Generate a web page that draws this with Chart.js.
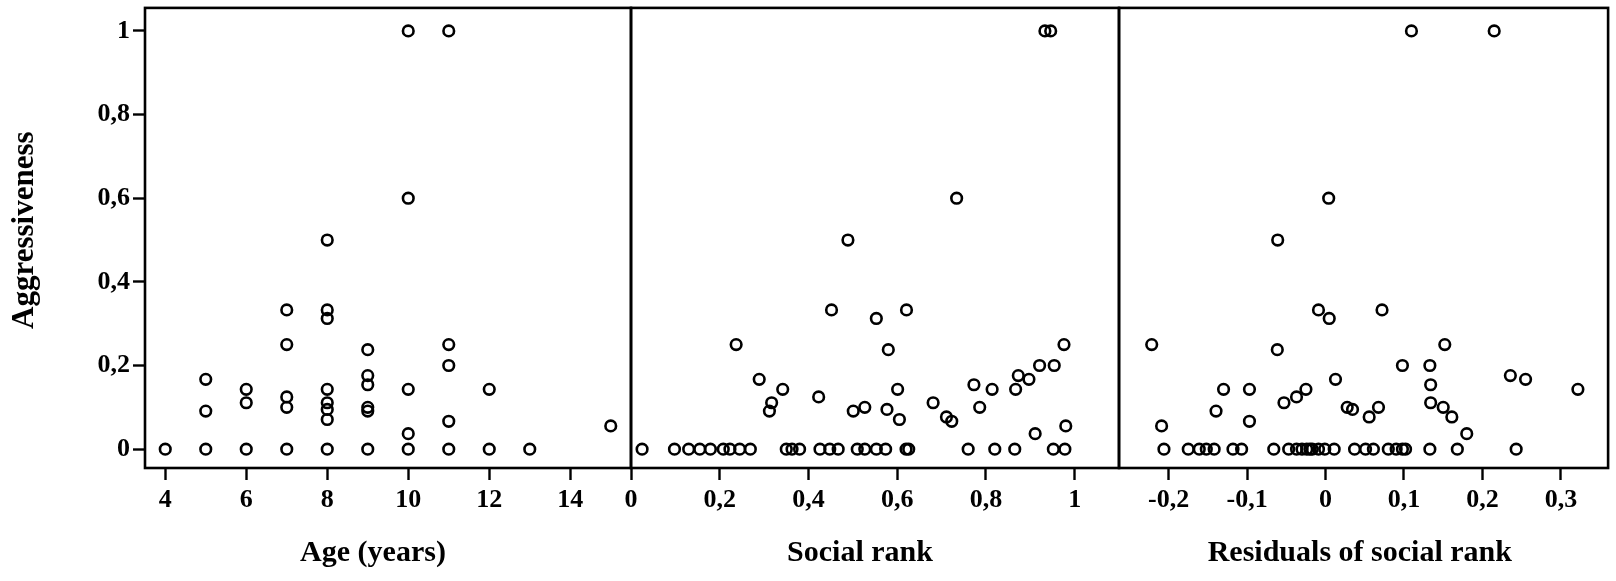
<!DOCTYPE html>
<html><head><meta charset="utf-8">
<script src="https://cdn.jsdelivr.net/npm/chart.js@4"></script>
<style>
html,body{margin:0;padding:0;background:#fff;}
#wrap{position:relative;width:1616px;height:581px;background:#fff;}
#wrap canvas{position:absolute;left:0;top:0;}
</style></head><body>
<div id="wrap">
<canvas id="c1" width="1616" height="581"></canvas>
<canvas id="c2" width="1616" height="581"></canvas>
<canvas id="c3" width="1616" height="581"></canvas>
</div>
<script>
// ---- Data ----
const yTitle = 'Aggressiveness';
const aggrTicks = [0, 0.2, 0.4, 0.6, 0.8, 1];
const aggrTickLabels = ['0', '0,2', '0,4', '0,6', '0,8', '1'];

const ageTitle = 'Age (years)';
const ageTicks = [4, 6, 8, 10, 12, 14];
const ageTickLabels = ['4', '6', '8', '10', '12', '14'];
const ageX = [4, 5,5,5, 6,6,6, 7,7,7,7,7, 8,8,8,8,8,8,8,8, 9,9,9,9,9,9, 10,10,10,10,10, 11,11,11,11,11, 12,12, 13, 15];
const ageAggr = [0, 0.167,0.091,0, 0.143,0.111,0, 0.333,0.25,0.125,0.1,0, 0.5,0.333,0.3125,0.143,0.111,0.095,0.071,0, 0.238,0.176,0.154,0.1,0.091,0, 1,0.6,0.143,0.037,0, 1,0.25,0.2,0.0667,0, 0.143,0, 0, 0.0556];

const rankTitle = 'Social rank';
const rankTicks = [0, 0.2, 0.4, 0.6, 0.8, 1];
const rankTickLabels = ['0', '0,2', '0,4', '0,6', '0,8', '1'];
const rankX = [0.025, 0.098, 0.130, 0.155, 0.179, 0.208, 0.223, 0.245, 0.269, 0.350, 0.363, 0.380, 0.426, 0.448, 0.467, 0.510, 0.527, 0.553, 0.574, 0.620, 0.626, 0.760, 0.820, 0.865, 0.952, 0.978,
  0.489, 0.734, 0.933, 0.946, 0.237, 0.289, 0.317, 0.312, 0.342, 0.423, 0.452, 0.501, 0.527, 0.553, 0.580, 0.577, 0.601, 0.605, 0.621, 0.681, 0.711, 0.723, 0.773, 0.786, 0.814, 0.867, 0.873, 0.897, 0.921, 0.954, 0.976, 0.911, 0.980];
const rankAggr = [0,0,0,0,0,0,0,0,0,0,0,0,0,0,0,0,0,0,0,0,0,0,0,0,0,0,
  0.5, 0.6, 1, 1, 0.25, 0.167, 0.111, 0.091, 0.143, 0.125, 0.333, 0.091, 0.1, 0.3125, 0.238, 0.095, 0.143, 0.071, 0.333, 0.111, 0.077, 0.0667, 0.154, 0.1, 0.143, 0.143, 0.176, 0.167, 0.2, 0.2, 0.25, 0.037, 0.0556];

const residTitle = 'Residuals of social rank';
const residTicks = [-0.2, -0.1, 0, 0.1, 0.2, 0.3];
const residTickLabels = ['-0,2', '-0,1', '0', '0,1', '0,2', '0,3'];
const residX = [-0.206, -0.175, -0.161, -0.152, -0.142, -0.118, -0.107, -0.066, -0.047, -0.037, -0.030, -0.024, -0.020, -0.017, -0.009, -0.001, 0.011, 0.037, 0.051, 0.061, 0.080, 0.090, 0.098, 0.102, 0.133, 0.168, 0.243,
  -0.2216, -0.209, -0.1396, -0.130, -0.097, -0.097, -0.0615, -0.053, -0.037, -0.025, -0.009, 0.0047, 0.0127, 0.0276, 0.0344, 0.0556, 0.0675, 0.072, 0.098, 0.133, 0.134, 0.134, 0.150, 0.152, 0.161, 0.180, 0.2356, 0.255, 0.3217,
  0.1095, 0.215, 0.004, -0.061];
const residAggr = [0,0,0,0,0,0,0,0,0,0,0,0,0,0,0,0,0,0,0,0,0,0,0,0,0,0,0,
  0.25, 0.0556, 0.091, 0.143, 0.143, 0.0667, 0.238, 0.111, 0.125, 0.143, 0.333, 0.3125, 0.167, 0.1, 0.095, 0.077, 0.1, 0.333, 0.2, 0.2, 0.154, 0.111, 0.1, 0.25, 0.077, 0.037, 0.176, 0.167, 0.143,
  1, 1, 0.6, 0.5];

// ---- Helpers ----
const FONT = 'Liberation Serif, Times New Roman, serif';
const NB = '\u00A0';
const framePlugin = {
  id: 'frame',
  afterDraw(chart) {
    const {ctx, chartArea: a} = chart;
    ctx.save();
    ctx.strokeStyle = '#000';
    ctx.lineWidth = 2.6;
    ctx.strokeRect(a.left, a.top, a.right - a.left, a.bottom - a.top);
    ctx.restore();
  }
};
const gridOpts = { drawOnChartArea: false, drawTicks: true, tickLength: 12, tickWidth: 2.4, tickColor: '#000', color: '#000' };
const tickFont = { family: FONT, size: 26, weight: 'bold' };

function xScale(min, max, ticks, labels, title, shift) {
  return {
    type: 'linear', position: 'bottom', min, max,
    afterBuildTicks: s => { s.ticks = ticks.map(v => ({ value: v })); },
    afterFit: s => { s.height = 113; s.paddingLeft = 0; s.paddingRight = 0; },
    ticks: { autoSkip: false, maxRotation: 0, minRotation: 0, padding: 5, color: '#000', font: tickFont,
      callback: (v, i) => labels[i] },
    grid: gridOpts,
    border: { display: false },
    title: { display: true, text: title + NB.repeat(shift), color: '#000', font: { family: FONT, size: 30, weight: 'bold' }, padding: { top: 0, bottom: 10 } }
  };
}
function yScale(show) {
  return {
    type: 'linear', position: 'left', min: -0.045, max: 1.055, display: show,
    afterBuildTicks: s => { s.ticks = aggrTicks.map(v => ({ value: v })); },
    afterFit: s => { if (show) s.width = 145; s.paddingTop = 0; s.paddingBottom = 0; },
    ticks: { autoSkip: false, padding: 3, color: '#000', font: tickFont, callback: (v, i) => aggrTickLabels[i] },
    grid: gridOpts,
    border: { display: false },
    title: { display: show, text: NB + NB + yTitle, color: '#000', font: { family: FONT, size: 31, weight: 'bold' }, padding: { top: 6, bottom: 0 } }
  };
}
function makeChart(id, xs, ys, xOpts, showY, padding) {
  new Chart(document.getElementById(id), {
    type: 'scatter',
    data: { datasets: [{
      data: xs.map((x, i) => ({ x, y: ys[i] })),
      pointRadius: 5.3, pointHoverRadius: 5.3, pointBorderWidth: 2.6,
      pointBackgroundColor: 'rgba(0,0,0,0)', pointBorderColor: '#000', borderColor: '#000', showLine: false
    }] },
    options: {
      responsive: false, animation: false, devicePixelRatio: 1,
      layout: { padding },
      scales: { x: xOpts, y: yScale(showY) },
      plugins: { legend: { display: false }, tooltip: { enabled: false } },
      events: []
    },
    plugins: [framePlugin]
  });
}

makeChart('c1', ageX, ageAggr, xScale(3.5, 15.5, ageTicks, ageTickLabels, ageTitle, 4), true, { left: 0, right: 985, top: 7, bottom: 0 });
makeChart('c2', rankX, rankAggr, xScale(0, 1.1, rankTicks, rankTickLabels, rankTitle, 4), false, { left: 631, right: 497, top: 7, bottom: 0 });
makeChart('c3', residX, residAggr, xScale(-0.2633, 0.3602, residTicks, residTickLabels, residTitle, 1), false, { left: 1119, right: 7, top: 7, bottom: 0 });
</script>
</body></html>
